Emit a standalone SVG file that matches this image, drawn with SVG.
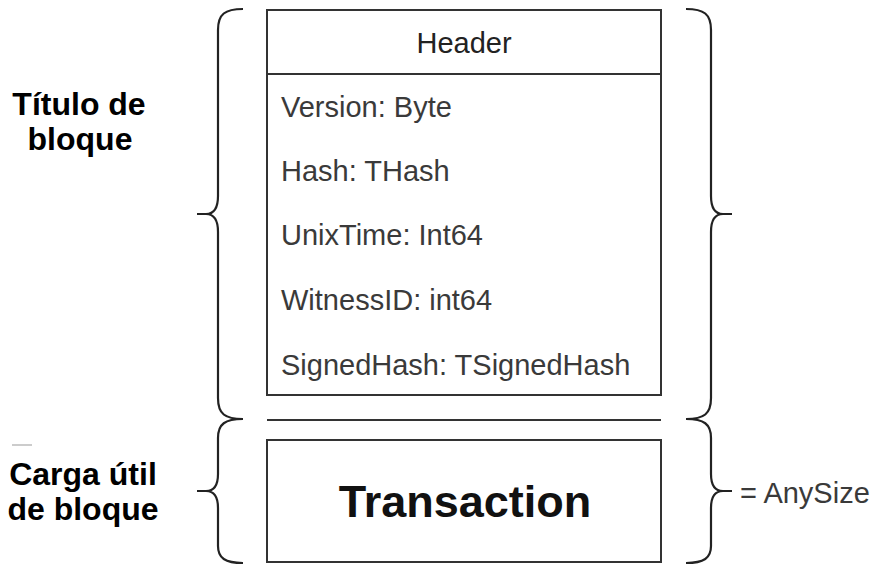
<svg xmlns="http://www.w3.org/2000/svg" width="879" height="565" viewBox="0 0 879 565">
<style>
.box{fill:#fff;stroke:#333;stroke-width:2}
.ln{stroke:#333;stroke-width:2;fill:none}
.brace{fill:none;stroke:#222;stroke-width:2.2;stroke-linecap:butt}
.f{font-family:"Liberation Sans",Arial,sans-serif;font-size:29px;fill:#3a3a3a}
.hd{font-family:"Liberation Sans",Arial,sans-serif;font-size:29px;fill:#222;text-anchor:middle}
.tx{font-family:"Liberation Sans",Arial,sans-serif;font-size:45px;font-weight:bold;fill:#111;text-anchor:middle}
.lb{font-family:"Liberation Sans",Arial,sans-serif;font-size:32px;font-weight:bold;fill:#000;text-anchor:middle}
</style>
<rect width="879" height="565" fill="#fff"/>
<g id="header">
<rect class="box" x="267" y="10" width="394" height="385"/>
<line class="ln" x1="267" y1="74" x2="661" y2="74"/>
<text class="hd" x="464" y="53">Header</text>
<text class="f" x="281" y="117">Version: Byte</text>
<text class="f" x="281" y="181">Hash: THash</text>
<text class="f" x="281" y="245">UnixTime: Int64</text>
<text class="f" x="281" y="310">WitnessID: int64</text>
<text class="f" x="281" y="375">SignedHash: TSignedHash</text>
</g>
<g id="separator">
<line class="ln" x1="267" y1="420" x2="661" y2="420"/>
</g>
<g id="transaction">
<rect class="box" x="267" y="440" width="394" height="122"/>
<text class="tx" x="465" y="517">Transaction</text>
</g>
<g id="braces">
<path class="brace" d="M243,9 C225,9 218,14 218,30 L218,196 C218,208 214,214 206,214 L197,214 M206,214 C214,214 218,220 218,232 L218,398 C218,414 225,419 243,419"/>
<path class="brace" d="M243,419 C225,419 218,424 218,438 L218,474 C218,485 214,491 206,491 L197,491 M206,491 C214,491 218,497 218,508 L218,546 C218,558 225,563 243,563"/>
<path class="brace" d="M686,9 C704,9 711,14 711,30 L711,196 C711,208 715,214 723,214 L732,214 M723,214 C715,214 711,220 711,232 L711,398 C711,414 704,419 686,419"/>
<path class="brace" d="M686,419 C704,419 711,424 711,438 L711,474 C711,485 715,491 723,491 L732,491 M723,491 C715,491 711,497 711,508 L711,546 C711,558 704,563 686,563"/>
</g>
<g id="labels">
<text class="lb" x="79" y="115">Título de</text>
<text class="lb" x="80" y="150">bloque</text>
<line x1="12" y1="445" x2="32" y2="445" stroke="#aaa" stroke-width="1.2"/>
<text class="lb" x="83" y="485">Carga útil</text>
<text class="lb" x="83" y="520">de bloque</text>
<text class="f" x="740" y="503">= AnySize</text>
</g>
</svg>
